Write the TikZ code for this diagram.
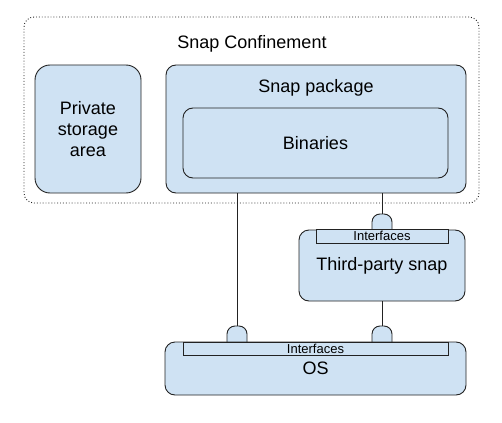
\documentclass[tikz,border=0pt]{standalone}
\usepackage{fontspec}
\setmainfont{Liberation Sans}
\usepackage{tikz}
\usetikzlibrary{calc}
\definecolor{snapblue}{HTML}{CFE2F3}
\definecolor{snapline}{HTML}{222222}
\tikzset{
  box/.style={rectangle, draw=snapline, fill=snapblue, line width=0.9pt, rounded corners=10pt, inner sep=0pt, align=center, font=\fontsize{18}{21}\selectfont},
  ifcbar/.style={rectangle, draw=snapline, fill=snapblue, line width=0.9pt, inner sep=0pt, font=\fontsize{13}{14}\selectfont},
  bump/.style={rectangle, draw=snapline, fill=snapblue, line width=0.9pt, rounded corners=8pt, minimum width=20pt, minimum height=24pt},
  conn/.style={draw=snapline, line width=0.9pt},
}

\begin{document}
\begin{tikzpicture}[x=1pt,y=-1pt]
            \useasboundingbox (0,0) rectangle (502,422);
            \node[rectangle,draw=snapline,dotted,line width=0.9pt,rounded corners=10pt,minimum width=455pt,minimum height=186pt] (conf) at (251.5,110) {};
            \node[font=\fontsize{18}{21}\selectfont] (conftext) at (252,44) {Snap Confinement};
            \node[box,rounded corners=15pt,minimum width=106pt,minimum height=128pt] (priv) at (88,129) {Private\\storage\\area};
            \node[box,minimum width=300pt,minimum height=128pt] (pkg) at (316,129) {};
            \node[font=\fontsize{18}{21}\selectfont] (pkgtext) at (316,88) {Snap package};
            \node[box,minimum width=265pt,minimum height=70pt] (bin) at (315.5,143) {Binaries};
            %bumps sit under the boxes, only their round tops show
            \node[bump] (b1) at (237,338) {};
            \node[bump] (b2) at (382,338) {};
            \node[bump] (b3) at (382,226) {};
            \node[box,minimum width=166pt,minimum height=71pt] (third) at (382,265.5) {\raisebox{-4pt}{Third-party snap}};
            \node[ifcbar,minimum width=132pt,minimum height=14pt] (tifc) at (382,236) {Interfaces};
            \node[box,minimum width=301pt,minimum height=53pt] (os) at (315.5,368.5) {\raisebox{-2pt}{OS}};
            \node[ifcbar,minimum width=265pt,minimum height=13pt] (oifc) at (315.5,348.5) {Interfaces};
            \draw[conn] (b1.north |- pkg.south) -- (b1.north);
            \draw[conn] (b3.north |- pkg.south) -- (b3.north);
            \draw[conn] (third.south) -- (b2.north);
        \end{tikzpicture}
\end{document}
